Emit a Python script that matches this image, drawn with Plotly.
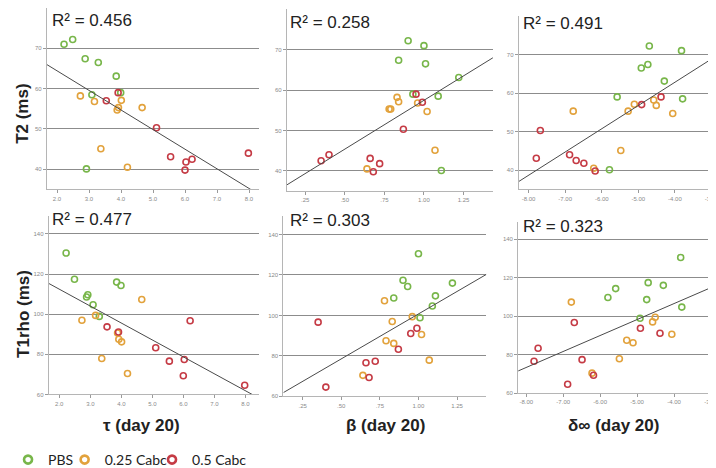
import numpy as np
import plotly.graph_objects as go

# ---------------- data (per subject) ----------------
groups = ["PBS", "0.25 Cabc", "0.5 Cabc"]
group_colors = ["#78b64a", "#e2a23c", "#c53b45"]

tau_pbs = [2.22, 2.49, 2.88, 3.29, 3.85, 3.09, 3.99, 2.92]
beta_pbs = [1.00, 0.90, 0.84, 1.01, 1.22, 1.09, 0.93, 1.11]
delta_pbs = [-3.82, -4.70, -4.74, -4.92, -4.29, -3.79, -5.58, -5.79]
t2_pbs = [71.0, 72.2, 67.4, 66.5, 63.1, 58.5, 59.0, 40.1]
t1rho_pbs = [130.5, 117.4, 108.6, 98.9, 116.0, 104.7, 114.3, 109.7]

tau_c025 = [2.73, 3.17, 4.01, 3.92, 3.88, 4.66, 3.37, 4.20]
beta_c025 = [0.83, 0.96, 0.84, 0.79, 1.02, 0.78, 1.07, 0.64]
delta_c025 = [-4.58, -4.51, -5.11, -5.28, -4.06, -6.78, -5.48, -6.22]
t2_c025 = [58.2, 56.8, 57.1, 55.3, 54.7, 55.3, 45.1, 40.5]
t1rho_c025 = [97.0, 99.4, 86.2, 87.5, 90.6, 107.3, 77.9, 70.4]

tau_c05 = [3.91, 3.54, 5.11, 5.55, 6.03, 6.22, 6.00, 7.98]
beta_c05 = [0.95, 0.99, 0.87, 0.66, 0.72, 0.35, 0.68, 0.40]
delta_c05 = [-4.38, -4.91, -7.68, -7.79, -6.49, -6.70, -6.18, -6.88]
t2_c05 = [59.0, 57.0, 50.3, 43.1, 41.8, 42.5, 39.8, 44.0]
t1rho_c05 = [91.1, 93.7, 83.3, 76.6, 77.4, 96.7, 69.3, 64.6]

r2_labels = ["R² = 0.456", "R² = 0.258", "R² = 0.491",
             "R² = 0.477", "R² = 0.303", "R² = 0.323"]
y_titles = ["T2 (ms)", "T1rho (ms)"]
x_titles = ["τ (day 20)", "β (day 20)", "δ∞ (day 20)"]

tau_ticks = [2.0, 3.0, 4.0, 5.0, 6.0, 7.0, 8.0]
tau_ticktext = ["2.0", "3.0", "4.0", "5.0", "6.0", "7.0", "8.0"]
beta_ticks = [0.25, 0.50, 0.75, 1.00, 1.25]
beta_ticktext = [".25", ".50", ".75", "1.00", "1.25"]
delta_ticks = [-8.0, -7.0, -6.0, -5.0, -4.0, -3.0]
delta_ticktext = ["-8.00", "-7.00", "-6.00", "-5.00", "-4.00", "-3.00"]
t2_ticks = [40, 50, 60, 70]
t1rho_ticks = [60, 80, 100, 120, 140]

# ---------------- layout geometry ----------------
W, H = 716, 468


def px_x(p):
    return p / W


def px_y(p):
    return (H - p) / H


# (left, right, top, bottom) pixels for each panel
panel_px = [
    (34, 248, 0, 185), (275.7, 483.3, 1.3, 186.7), (509.3, 713, 8.1, 185),
    (36, 248, 212, 394), (272.3, 476.7, 212.4, 396), (508.7, 713.3, 218, 392.7),
]
x_ranges = [[1.68, 8.32], [0.133, 1.436], [-8.27, -2.74],
            [1.66, 8.45], [0.125, 1.44], [-8.22, -2.72]]
y_ranges = [[35, 80], [35, 80], [35, 80], [60, 149], [60, 149], [60, 149]]

xs_by_col = [
    [tau_pbs, tau_c025, tau_c05],
    [beta_pbs, beta_c025, beta_c05],
    [delta_pbs, delta_c025, delta_c05],
]
ys_by_row = [
    [t2_pbs, t2_c025, t2_c05],
    [t1rho_pbs, t1rho_c025, t1rho_c05],
]
xtick_sets = [(tau_ticks, tau_ticktext), (beta_ticks, beta_ticktext),
              (delta_ticks, delta_ticktext)]
ytick_sets = [t2_ticks, t1rho_ticks]

fig = go.Figure()
layout = dict(
    width=W, height=H, margin=dict(l=0, r=0, t=0, b=0),
    paper_bgcolor="white", plot_bgcolor="white",
    font=dict(family="Liberation Sans, Arial, sans-serif", color="#222"),
    showlegend=True,
)
annotations = []

for i in range(6):
    row, col = divmod(i, 3)
    n = i + 1
    xa = "x" if n == 1 else f"x{n}"
    ya = "y" if n == 1 else f"y{n}"
    l, r, t, b = panel_px[i]
    tv, tt = xtick_sets[col]
    layout["xaxis" if n == 1 else f"xaxis{n}"] = dict(
        domain=[px_x(l), px_x(r)], range=x_ranges[i], anchor=ya,
        tickvals=tv, ticktext=tt, showgrid=False, zeroline=False,
        showline=True, linecolor="#b5b5b5", linewidth=1,
        ticks="outside", ticklen=3, tickcolor="#9a9a9a",
        tickfont=dict(size=6, color="#8a8a8a"), ticklabeloverflow="allow",
    )
    layout["yaxis" if n == 1 else f"yaxis{n}"] = dict(
        domain=[px_y(b), px_y(t)], range=y_ranges[i], anchor=xa,
        tickvals=ytick_sets[row], showgrid=True, gridcolor="#8c8c8c",
        gridwidth=1.2, zeroline=False,
        showline=True, linecolor="#b5b5b5", linewidth=1,
        ticks="outside", ticklen=3, tickcolor="#9a9a9a",
        tickfont=dict(size=6, color="#8a8a8a"), ticklabeloverflow="allow",
    )

    all_x, all_y = [], []
    for g in range(3):
        gx = xs_by_col[col][g]
        gy = ys_by_row[row][g]
        all_x += gx
        all_y += gy
        fig.add_trace(go.Scatter(
            x=gx, y=gy, mode="markers", xaxis=xa, yaxis=ya,
            marker=dict(symbol="circle-open", size=6, color=group_colors[g],
                        line=dict(width=1.6, color=group_colors[g])),
            showlegend=False, name=groups[g], cliponaxis=False,
        ))
    # least squares fit line through the data of this panel
    slope, intercept = np.polyfit(all_x, all_y, 1)
    fx = np.array(x_ranges[i])
    fig.add_trace(go.Scatter(
        x=fx, y=slope * fx + intercept, mode="lines", xaxis=xa, yaxis=ya,
        line=dict(color="#4a4a4a", width=1), showlegend=False,
        hoverinfo="skip",
    ))

    r2_pos = [(37, 12.5), (277, 14.5), (512, 15.5),
              (37, 216), (277, 217), (512, 223)][i]
    annotations.append(dict(
        text=r2_labels[i], x=px_x(r2_pos[0]), y=px_y(r2_pos[1]),
        xref="paper", yref="paper", xanchor="left", yanchor="middle",
        showarrow=False, font=dict(size=17, color="#222"),
    ))

# legend entries (symbol only), each in its own legend box
legend_names = ["legend", "legend2", "legend3"]
legend_x = [-5, 52, 140]
for g in range(3):
    fig.add_trace(go.Scatter(
        x=[None], y=[None], mode="markers", name=groups[g],
        marker=dict(symbol="circle-open", size=8, color=group_colors[g],
                    line=dict(width=2.6, color=group_colors[g])),
        showlegend=True, legend=legend_names[g],
    ))
    layout[legend_names[g]] = dict(
        orientation="h", x=px_x(legend_x[g]), y=px_y(461),
        xanchor="left", yanchor="middle",
        font=dict(family="Lato, sans-serif", size=14, color="#222"),
        bgcolor="rgba(0,0,0,0)", itemclick=False,
    )

# axis titles
for row, (txt, yc) in enumerate(zip(y_titles, [108, 312])):
    annotations.append(dict(
        text=f"<b>{txt}</b>", x=px_x(10), y=px_y(yc), xref="paper",
        yref="paper", textangle=-90, showarrow=False,
        font=dict(size=17, color="#222"), xanchor="center", yanchor="middle",
    ))
for col, (txt, xc) in enumerate(zip(x_titles, [129, 375, 605])):
    annotations.append(dict(
        text=f"<b>{txt}</b>", x=px_x(xc), y=px_y(426), xref="paper",
        yref="paper", showarrow=False, font=dict(size=17, color="#222"),
        xanchor="center", yanchor="middle",
    ))

layout["annotations"] = annotations
fig.update_layout(**layout)
fig.write_html("out.html")
